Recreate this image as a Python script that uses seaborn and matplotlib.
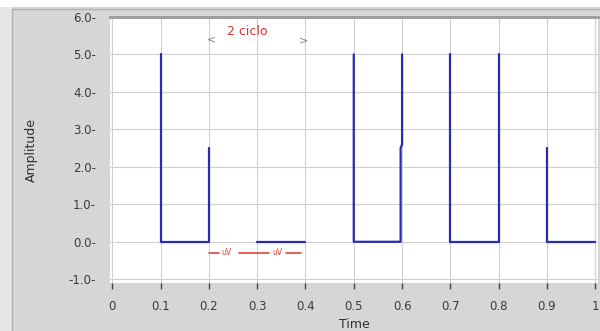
import matplotlib
matplotlib.use("Agg")
import matplotlib.pyplot as plt
import seaborn as sns
import pandas as pd
import numpy as np
from matplotlib.patches import Rectangle

# Dados do sinal (segmentos separados)
seg_id = [1, 1, 1, 1,
          2, 2,
          3, 3, 3, 3, 3, 3,
          4, 4, 4, 4,
          5, 5, 5]
tempo = [0.1, 0.1, 0.2, 0.2,
         0.3, 0.4,
         0.5, 0.5, 0.597, 0.597, 0.6, 0.6,
         0.7, 0.7, 0.8, 0.8,
         0.9, 0.9, 1.0]
amplitude = [5.0, 0.0, 0.0, 2.5,
             0.0, 0.0,
             5.0, 0.0, 0.0, 2.5, 2.6, 5.0,
             5.0, 0.0, 0.0, 5.0,
             2.5, 0.0, 0.0]

x_ticks = [0, 0.1, 0.2, 0.3, 0.4, 0.5, 0.6, 0.7, 0.8, 0.9, 1.0]
x_labels = ["0", "0.1", "0.2", "0.3", "0.4", "0.5", "0.6", "0.7", "0.8", "0.9", "1"]
y_ticks = [-1, 0, 1, 2, 3, 4, 5, 6]

df = pd.DataFrame({"seg": seg_id, "Time": tempo, "Amplitude": amplitude})

sns.set_theme(style="whitegrid")
plt.rcParams['font.family'] = ['DejaVu Sans']

fig = plt.figure(figsize=(6.0, 3.31), dpi=100, facecolor="#d6d6d6")

# moldura do painel (faixa branca no topo, faixa clara à esquerda)
fig.patches.append(Rectangle((0, 1 - 7 / 331), 1, 7 / 331, transform=fig.transFigure,
                             facecolor="white", edgecolor="none", zorder=0))
fig.patches.append(Rectangle((0, 0), 12 / 600, 1 - 7 / 331, transform=fig.transFigure,
                             facecolor="#e6e6e6", edgecolor="none", zorder=0))
fig.add_artist(plt.Line2D([12 / 600, 12 / 600], [0, 1 - 9 / 331], transform=fig.transFigure,
                          color="#b0b0b0", linewidth=1))
fig.add_artist(plt.Line2D([12 / 600, 1], [1 - 9 / 331, 1 - 9 / 331], transform=fig.transFigure,
                          color="#b0b0b0", linewidth=1))

ax = fig.add_axes([0.183, 0.145, 0.814, 0.804])
ax.set_facecolor("white")

sns.lineplot(data=df, x="Time", y="Amplitude", units="seg", estimator=None,
             sort=False, color="#2a2ab4", linewidth=1.6, ax=ax)

ax.set_xlim(-0.005, 1.006)
ax.set_ylim(-1.1, 6.0)
ax.set_xticks(x_ticks)
ax.set_xticklabels(x_labels)
ax.set_yticks(y_ticks)
ax.set_yticklabels([f"{v:.1f}-" for v in y_ticks])
ax.grid(True, color="#d0d0d0", linewidth=0.8)
ax.tick_params(axis="y", length=0, pad=10, labelsize=8.5, labelcolor="#3a3a3a")
ax.tick_params(axis="x", length=4, width=1, color="#404040", direction="out",
               pad=8, labelsize=8.5, labelcolor="#3a3a3a", bottom=True)
for s in ax.spines.values():
    s.set_visible(False)
ax.spines["top"].set_visible(True)
ax.spines["top"].set_color("#9a9a9a")
ax.spines["top"].set_linewidth(2)

ax.set_xlabel("Time", fontsize=9, color="#303030", labelpad=4)
ax.set_ylabel("Amplitude", fontsize=9, color="#303030", labelpad=22)

# Anotações
ax.text(0.28, 5.62, "2 ciclo", color="#e03030", fontsize=9, ha="center", va="center")
ax.text(0.205, 5.4, "<", color="#808080", fontsize=8, ha="center", va="center")
ax.text(0.395, 5.38, ">", color="#808080", fontsize=8, ha="center", va="center")

red = "#e04040"
ax.plot([0.2, 0.222], [-0.29, -0.29], color=red, linewidth=1.2)
ax.text(0.237, -0.29, "uV", color=red, fontsize=5.5, ha="center", va="center")
ax.plot([0.263, 0.325], [-0.29, -0.29], color=red, linewidth=1.2)
ax.text(0.342, -0.29, "uV", color=red, fontsize=5.5, ha="center", va="center")
ax.plot([0.36, 0.39], [-0.29, -0.29], color=red, linewidth=1.2)

fig.savefig("out.png", dpi=100, facecolor=fig.get_facecolor())
